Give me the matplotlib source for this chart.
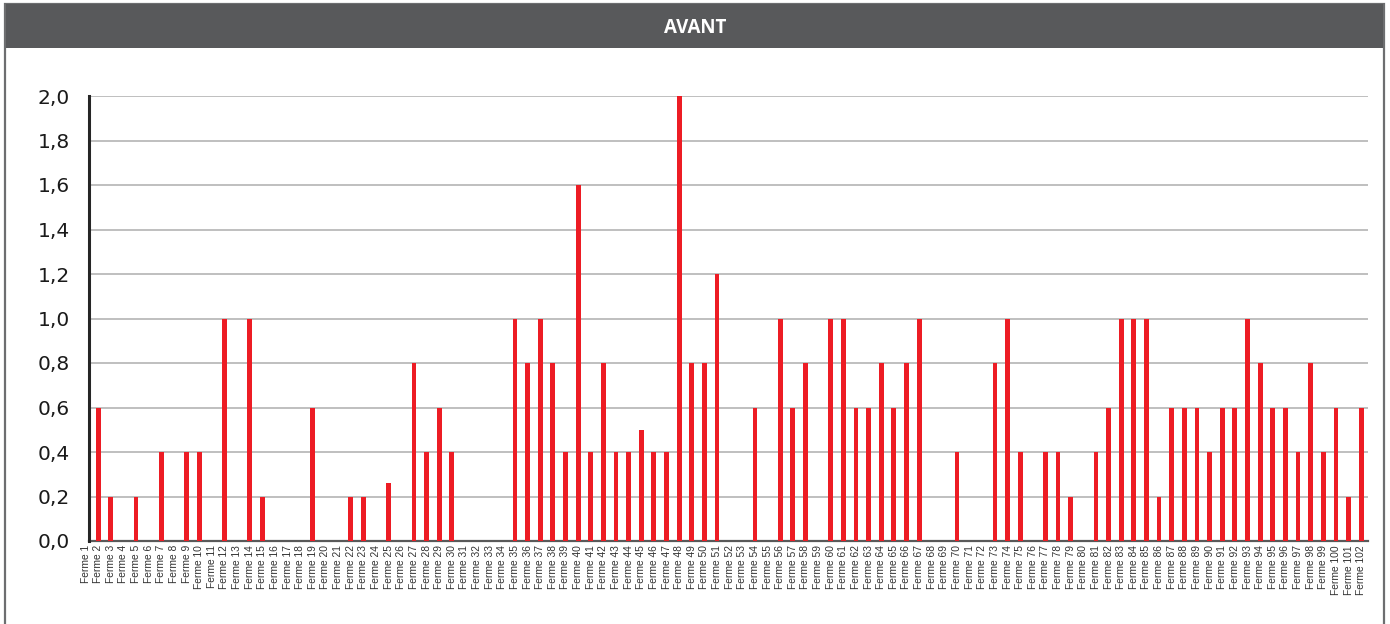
import matplotlib
matplotlib.use("Agg")
import matplotlib.pyplot as plt
from matplotlib.patches import Rectangle
from matplotlib.ticker import FuncFormatter

fermes = ["Ferme %d" % i for i in range(1, 103)]
valeurs = [
    0.0, 0.6, 0.2, 0.0, 0.2, 0.0, 0.4, 0.0, 0.4, 0.4,      # 1-10
    0.0, 1.0, 0.0, 1.0, 0.2, 0.0, 0.0, 0.0, 0.6, 0.0,      # 11-20
    0.0, 0.2, 0.2, 0.0, 0.26, 0.0, 0.8, 0.4, 0.6, 0.4,     # 21-30
    0.0, 0.0, 0.0, 0.0, 1.0, 0.8, 1.0, 0.8, 0.4, 1.6,      # 31-40
    0.4, 0.8, 0.4, 0.4, 0.5, 0.4, 0.4, 2.0, 0.8, 0.8,      # 41-50
    1.2, 0.0, 0.0, 0.6, 0.0, 1.0, 0.6, 0.8, 0.0, 1.0,      # 51-60
    1.0, 0.6, 0.6, 0.8, 0.6, 0.8, 1.0, 0.0, 0.0, 0.4,      # 61-70
    0.0, 0.0, 0.8, 1.0, 0.4, 0.0, 0.4, 0.4, 0.2, 0.0,      # 71-80
    0.4, 0.6, 1.0, 1.0, 1.0, 0.2, 0.6, 0.6, 0.6, 0.4,      # 81-90
    0.6, 0.6, 1.0, 0.8, 0.6, 0.6, 0.4, 0.8, 0.4, 0.6,      # 91-100
    0.2, 0.6,                                              # 101-102
]
titre = "AVANT"
yticks = [0.0, 0.2, 0.4, 0.6, 0.8, 1.0, 1.2, 1.4, 1.6, 1.8, 2.0]

W, H = 1390, 624
fig = plt.figure(figsize=(W / 100, H / 100), dpi=100)

# cadre + bandeau du titre
fig.patches.append(Rectangle((5 / W, -0.05), 1379 / W, 1.05 - 4 / H,
                             transform=fig.transFigure, fill=False,
                             edgecolor="#6d6e70", linewidth=1.6))
fig.patches.append(Rectangle((6 / W, 1 - 48 / H), 1377 / W, 44 / H,
                             transform=fig.transFigure, facecolor="#58595b",
                             edgecolor="none"))
fig.text(695 / W, 1 - 28 / H, titre, color="white", fontsize=13.5,
         fontweight="bold", ha="center", va="center",
         family=["Open Sans", "DejaVu Sans"])

ax = fig.add_axes([81.1 / W, 83 / H, 1286.9 / W, 445 / H])
x = list(range(len(fermes)))
ax.bar(x, valeurs, width=0.38, color="#ed1c24", zorder=3)

ax.set_xlim(-0.35, 101.54)
ax.set_ylim(0, 2.0)
ax.set_yticks(yticks)
ax.yaxis.set_major_formatter(FuncFormatter(lambda v, p: ("%.1f" % v).replace(".", ",")))
ax.tick_params(axis="y", length=0, pad=14, labelsize=14.5, labelcolor="#1a1a1a")
for lab in ax.get_yticklabels():
    lab.set_family(["Lato", "DejaVu Sans"])

ax.set_xticks(x)
ax.set_xticklabels(fermes, rotation=90, fontsize=7.4, color="#333333",
                   family=["Liberation Sans Narrow", "Liberation Sans", "DejaVu Sans"])
ax.tick_params(axis="x", length=0, pad=3)

ax.hlines(yticks[1:], 0.28, 101.54, colors="#bfbfbf", linewidth=1.4, zorder=1)

for s in ["top", "right"]:
    ax.spines[s].set_visible(False)
ax.spines["left"].set_position(("data", 0.28))
ax.spines["left"].set_linewidth(2.2)
ax.spines["left"].set_color("#262626")
ax.spines["left"].set_zorder(4)
ax.spines["bottom"].set_linewidth(1.6)
ax.spines["bottom"].set_color("#595959")
ax.spines["bottom"].set_bounds(0.28, 101.54)

fig.savefig("out.png", dpi=100)
